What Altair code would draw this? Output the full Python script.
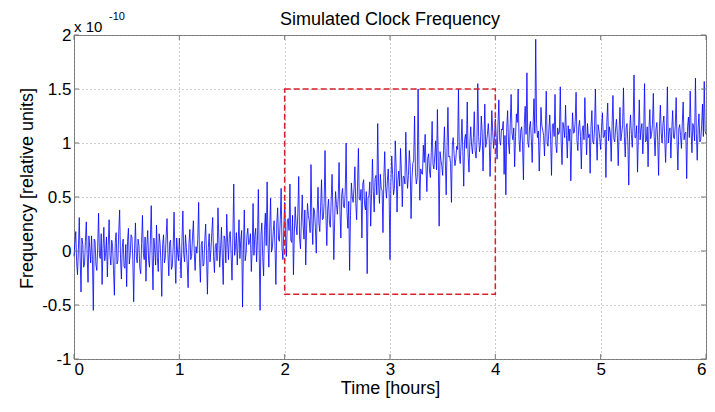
import altair as alt
import pandas as pd

# ---- data: frequency in units of 1e-10, two samples per minute ----
freq = [
    -0.05, 0.07, 0.18, -0.10, -0.22, 0.01, 0.31, -0.06, -0.38, 0.12, 0.06, -0.15, -0.12, 0.09, 0.27, -0.03, -0.29, 0.14, 0.02, -0.11,
    0.14, -0.08, -0.55, 0.11, 0.09, -0.13, -0.18, 0.04, 0.35, -0.05, -0.07, 0.16, -0.31, 0.02, 0.22, -0.09, -0.02, 0.13, -0.24, 0.05,
    0.29, -0.04, -0.13, 0.10, 0.04, -0.17, -0.41, 0.08, 0.17, -0.12, -0.09, 0.19, 0.38, -0.07, -0.26, 0.03, 0.11, -0.14, -0.16, 0.06,
    -0.33, 0.09, 0.21, -0.12, -0.04, 0.15, 0.13, -0.08, -0.47, 0.02, 0.26, -0.05, -0.11, 0.11, 0.05, -0.16, -0.21, 0.07, 0.33, -0.02,
    -0.08, 0.13, -0.28, 0.05, 0.19, -0.09, -0.15, 0.10, 0.42, -0.04, -0.36, 0.12, 0.01, -0.13, 0.24, -0.06, -0.19, 0.16, 0.08, -0.10,
    -0.42, 0.06, 0.15, -0.11, -0.06, 0.14, 0.30, -0.02, -0.23, 0.08, 0.10, -0.17, -0.14, 0.04, 0.36, -0.07, -0.30, 0.12, -0.01, -0.09,
    0.12, -0.06, -0.25, 0.09, 0.37, -0.03, -0.10, 0.15, 0.03, -0.12, -0.34, 0.07, 0.20, -0.08, -0.05, 0.13, 0.28, -0.01, -0.18, 0.04,
    -0.02, 0.11, 0.45, -0.07, -0.29, 0.06, 0.09, -0.14, -0.12, 0.10, 0.25, -0.04, -0.40, 0.03, 0.16, -0.10, 0.01, 0.17, 0.31, -0.05,
    -0.20, 0.05, 0.07, -0.09, 0.40, 0.12, -0.15, 0.02, 0.22, -0.06, -0.31, 0.14, 0.11, -0.11, 0.34, 0.08, -0.08, 0.15, 0.18, -0.03,
    -0.27, 0.12, 0.62, -0.04, 0.04, 0.17, -0.13, 0.08, 0.29, -0.07, 0.10, 0.19, -0.52, 0.01, 0.38, -0.09, -0.03, 0.14, 0.21, 0.06,
    0.08, 0.16, -0.19, 0.01, 0.44, -0.04, 0.14, 0.21, -0.10, 0.10, 0.57, -0.02, -0.55, 0.15, 0.26, -0.06, -0.23, 0.19, 0.35, 0.05,
    0.64, 0.07, -0.15, 0.22, 0.49, -0.01, 0.03, 0.18, 0.28, 0.04, -0.31, 0.25, 0.40, 0.11, 0.09, 0.29, 0.58, 0.02, -0.08, 0.20,
    0.45, 0.13, -0.05, 0.28, 0.30, 0.19, 0.62, 0.10, 0.08, 0.33, -0.22, 0.16, 0.41, 0.24, 0.15, 0.35, 0.69, 0.12, 0.02, 0.27,
    0.52, 0.24, 0.11, 0.38, -0.13, 0.21, 0.44, 0.33, 0.28, 0.17, 0.80, 0.29, 0.06, 0.40, 0.37, 0.22, -0.02, 0.35, 0.59, 0.26,
    0.18, 0.41, 0.66, 0.29, 0.30, 0.45, 0.93, 0.33, 0.05, 0.39, 0.48, 0.26, 0.22, 0.47, 0.71, 0.35, -0.08, 0.30, 0.55, 0.43,
    0.34, 0.49, 0.82, 0.37, 0.12, 0.52, 0.58, 0.41, 0.40, 0.55, 1.00, 0.36, 0.21, 0.46, -0.18, 0.33, 0.63, 0.50, 0.45, 0.58,
    0.78, 0.44, 0.29, 0.60, 0.95, 0.48, 0.47, 0.57, 0.12, 0.62, 0.66, 0.43, 0.38, 0.55, -0.21, 0.49, 0.51, 0.64, 0.23, 0.53,
    0.85, 0.55, 0.36, 0.67, 0.70, 0.52, 1.18, 0.63, 0.44, 0.71, 0.58, 0.56, 0.17, 0.68, 0.92, 0.59, 0.49, 0.65, 0.76, 0.54,
    -0.08, 0.63, 0.88, 0.71, 0.52, 0.58, 1.02, 0.77, 0.36, 0.66, 0.74, 0.60, 0.95, 0.73, 0.41, 0.69, 0.69, 0.62, 1.10, 0.75,
    0.58, 0.70, 0.93, 0.79, 0.30, 0.66, 0.81, 0.84, 1.25, 0.73, 0.62, 0.68, 1.50, 0.80, 0.47, 0.76, 0.72, 0.71, 0.98, 0.82,
    1.08, 0.78, 0.55, 0.86, 0.90, 0.74, 0.68, 0.91, 1.20, 0.80, 0.76, 0.88, 1.02, 0.75, 1.31, 0.83, 0.23, 0.92, 0.84, 0.79,
    0.70, 0.93, 1.15, 0.84, 0.52, 0.96, 1.33, 0.87, 0.88, 0.81, 0.45, 0.98, 1.05, 0.90, 0.79, 0.85, 0.97, 0.94, 1.50, 0.88,
    0.81, 0.99, 1.22, 0.92, 0.60, 1.03, 1.08, 0.95, 1.38, 0.89, 0.73, 1.01, 1.15, 0.97, 0.90, 1.05, 1.29, 0.93, 0.86, 1.00,
    1.55, 1.06, 0.92, 0.98, 1.25, 1.10, 0.74, 1.02, 1.36, 0.96, 1.01, 1.08, 1.18, 1.04, 0.69, 0.99, 1.30, 1.11, 0.95, 1.05,
    1.22, 1.05, 0.85, 1.16, 1.40, 1.02, 0.98, 1.13, 1.12, 1.20, 0.71, 1.07, 0.52, 1.14, 1.30, 1.00, 0.90, 1.18, 1.45, 1.09,
    1.03, 1.14, 0.78, 1.06, 1.27, 1.19, 1.50, 1.03, 0.92, 1.12, 1.15, 0.99, 0.66, 1.17, 1.34, 1.08, 1.65, 1.01, 0.96, 1.15,
    1.20, 1.04, 0.82, 1.15, 1.41, 1.09, 1.96, 1.18, 1.05, 1.11, 0.74, 1.02, 1.33, 1.16, 1.12, 1.07, 0.88, 1.13, 1.48, 1.00,
    0.97, 1.12, 1.26, 1.03, 0.70, 1.17, 1.18, 1.06, 1.45, 0.98, 0.91, 1.14, 1.08, 1.10, 1.52, 1.01, 0.80, 1.19, 1.14, 1.05,
    1.35, 1.07, 0.86, 1.16, 1.02, 1.13, 0.65, 1.04, 1.28, 1.09, 1.10, 1.20, 1.47, 1.02, 0.93, 1.15, 1.21, 1.06, 0.76, 1.11,
    1.16, 1.03, 1.42, 1.10, 0.89, 1.18, 1.05, 1.08, 0.72, 1.15, 1.30, 1.01, 0.99, 1.13, 1.50, 1.06, 0.84, 1.17, 1.12, 1.04,
    0.94, 1.14, 1.28, 1.05, 1.06, 1.12, 0.68, 1.19, 1.37, 1.02, 1.15, 1.09, 0.83, 1.16, 1.44, 1.04, 1.01, 1.13, 1.22, 1.07,
    0.79, 1.11, 1.33, 1.02, 1.09, 1.17, 1.51, 1.06, 0.87, 1.14, 1.18, 1.00, 0.61, 1.12, 1.26, 1.08, 0.96, 1.19, 1.63, 1.05,
    1.05, 1.16, 0.73, 1.08, 1.40, 1.03, 1.13, 1.18, 0.90, 1.10, 1.55, 1.01, 1.02, 1.15, 0.78, 1.12, 1.31, 1.04, 1.08, 1.17,
    1.46, 1.06, 0.88, 1.13, 1.19, 1.02, 0.70, 1.15, 1.35, 1.09, 1.00, 1.18, 1.25, 1.04, 0.82, 1.11, 1.52, 1.00, 1.11, 1.14,
    0.86, 1.12, 1.30, 1.05, 1.04, 1.16, 1.42, 1.01, 0.75, 1.13, 1.17, 1.07, 0.95, 1.19, 1.38, 1.03, 1.09, 1.10, 0.67, 1.15,
    1.24, 1.05, 1.48, 1.12, 0.91, 1.18, 1.14, 1.02, 1.60, 1.09, 0.84, 1.14, 1.27, 1.01, 1.03, 1.16, 1.36, 1.06, 1.57, 1.11,
    1.08,
]
time_h = [i / 120 for i in range(len(freq))]  # sample every 30 s

box_x = [2, 4]
box_y = [-0.4, 1.5]

x_ticks = [0, 1, 2, 3, 4, 5, 6]
y_ticks = [-1, -0.5, 0, 0.5, 1, 1.5, 2]

title_text = "Simulated Clock Frequency"
x_title = "Time [hours]"
y_title = "Frequency [relative units]"

W, H = 632, 324
FONT = "Liberation Sans"

line_df = pd.DataFrame({"t": time_h, "f": freq})
box_df = pd.DataFrame({"x1": [box_x[0]], "x2": [box_x[1]], "y1": [box_y[0]], "y2": [box_y[1]]})
xt_df = pd.DataFrame({"v": x_ticks})
yt_df = pd.DataFrame({"v": y_ticks})
one = pd.DataFrame({"a": [0]})

xs = alt.Scale(domain=[0, 6], nice=False, zero=False)
ys = alt.Scale(domain=[-1, 2], nice=False, zero=False)

x_axis = alt.Axis(values=x_ticks, title=x_title, labelPadding=2,
                  titleY=34, titleBaseline="alphabetic", labelExpr="'' + datum.value")
y_axis = alt.Axis(values=y_ticks, title=y_title, labelPadding=3,
                  titleX=-47, titleY=153, titleBaseline="middle",
                  labelExpr="'' + datum.value")

line = alt.Chart(line_df).mark_line(color="#0000ff", strokeWidth=0.8).encode(
    x=alt.X("t:Q", scale=xs, axis=x_axis),
    y=alt.Y("f:Q", scale=ys, axis=y_axis),
)

box = alt.Chart(box_df).mark_rect(
    fillOpacity=0, stroke="#d8202a", strokeWidth=1.5, strokeDash=[6, 3]
).encode(
    x=alt.X("x1:Q", scale=xs, axis=x_axis),
    x2="x2:Q",
    y=alt.Y("y1:Q", scale=ys, axis=y_axis),
    y2="y2:Q",
)

tick_color = "#777777"
bt = alt.Chart(xt_df).mark_rule(color=tick_color).encode(
    x=alt.X("v:Q", scale=xs, axis=x_axis), y=alt.value(H), y2=alt.value(H - 5))
tt = alt.Chart(xt_df).mark_rule(color=tick_color).encode(
    x=alt.X("v:Q", scale=xs, axis=x_axis), y=alt.value(0), y2=alt.value(5))
lt = alt.Chart(yt_df).mark_rule(color=tick_color).encode(
    y=alt.Y("v:Q", scale=ys, axis=y_axis), x=alt.value(0), x2=alt.value(5))
rt = alt.Chart(yt_df).mark_rule(color=tick_color).encode(
    y=alt.Y("v:Q", scale=ys, axis=y_axis), x=alt.value(W), x2=alt.value(W - 5))

title = alt.Chart(one).mark_text(
    text=title_text, font=FONT, fontSize=18, align="center", baseline="alphabetic", color="black"
).encode(x=alt.value(W / 2), y=alt.value(-10))

mult = alt.Chart(one).mark_text(
    text="x 10", font=FONT, fontSize=15, align="left", baseline="alphabetic", color="black"
).encode(x=alt.value(0), y=alt.value(-3))
expo = alt.Chart(one).mark_text(
    text="-10", font=FONT, fontSize=11, align="left", baseline="alphabetic", color="black"
).encode(x=alt.value(35), y=alt.value(-15))

chart = alt.layer(line, box, bt, tt, lt, rt, title, mult, expo).properties(
    width=W, height=H,
    autosize=alt.AutoSizeParams(type="none"),
    padding={"left": 66, "top": 27, "right": 1, "bottom": 39},
).configure_view(
    stroke="#777777", strokeWidth=1
).configure_axis(
    labelFont=FONT, titleFont=FONT, labelFontSize=17, titleFontSize=18,
    labelColor="black", titleColor="black", titleFontWeight="normal",
    grid=True, gridColor="#999999", gridDash=[1, 3], gridWidth=1,
    domain=False, ticks=False, tickSize=0,
)

chart.save("out.html", embed_options={"renderer": "svg", "actions": False})
